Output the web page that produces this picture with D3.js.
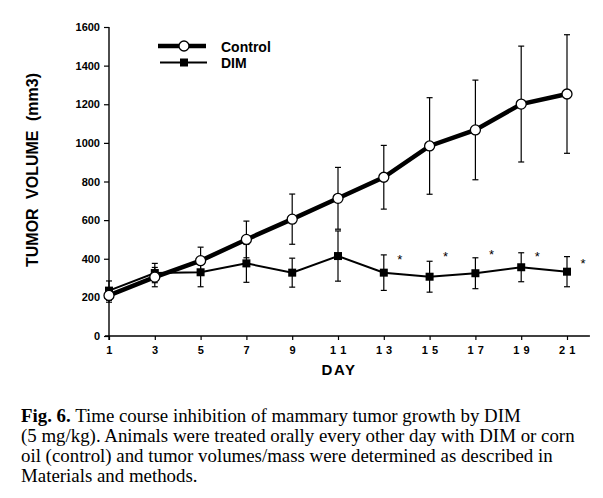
<!DOCTYPE html>
<html><head><meta charset="utf-8">
<script src="https://cdn.jsdelivr.net/npm/d3@7"></script>
<style>body{margin:0;background:#fff}svg{display:block}</style>
</head><body>
<svg id="c" width="603" height="498"></svg>
<script>
const days = [1,3,5,7,9,11,13,15,17,19,21];
const controlMean = [210,305,390,500,605,713,822,984,1067,1201,1253];
const controlErr  = [35,50,70,95,130,160,165,250,258,300,307];
const dimMean = [235,326,330,376,328,414,328,307,325,356,333];
const dimErr  = [50,50,75,98,75,130,92,80,80,75,78];
const starDays = [13,15,17,19,21];
const starValues = [404,419,431,419,385];
const yTicks = [0,200,400,600,800,1000,1200,1400,1600];
const xTickLabels = ["1","3","5","7","9","1 1","1 3","1 5","1 7","1 9","2 1"];
const captionLines = [
  ["Fig. 6.", " Time course inhibition of mammary tumor growth by DIM"],
  ["", "(5 mg/kg). Animals were treated orally every other day with DIM or corn"],
  ["", "oil (control) and tumor volumes/mass were determined as described in"],
  ["", "Materials and methods."]
];

const svg = d3.select("#c");
svg.append("rect").attr("width",603).attr("height",498).attr("fill","#fff");
const x = d3.scaleLinear().domain([1,21]).range([109,567]);
const y = d3.scaleLinear().domain([0,1600]).range([336,27]);
const sans = "'Liberation Sans', Arial, Helvetica, sans-serif";

// axes
const yAxis = svg.append("g").attr("transform",`translate(${x(1)},0)`)
  .call(d3.axisLeft(y).tickValues(yTicks).tickSize(5).tickSizeOuter(0).tickPadding(4).tickFormat(d3.format("d")));
const xAxis = svg.append("g").attr("transform",`translate(0,${y(0)})`)
  .call(d3.axisBottom(x).tickValues(days).tickSize(4).tickSizeOuter(0).tickPadding(6).tickFormat((d,i)=>xTickLabels[i]));
[yAxis,xAxis].forEach(g=>{
  g.select(".domain").remove();
  g.selectAll("line").attr("stroke","#000").attr("stroke-width",1.2);
  g.selectAll("text").attr("fill","#000").style("font-family",sans).style("font-weight","bold")
    .style("font-size","11px").style("white-space","pre");
});
xAxis.selectAll("text").style("letter-spacing","0.5px");
svg.append("line").attr("x1",x(1)).attr("x2",x(1)).attr("y1",y(1600)).attr("y2",y(0)+4)
  .attr("stroke","#000").attr("stroke-width",1.4);
svg.append("line").attr("x1",x(1)-4).attr("x2",x(22)).attr("y1",y(0)).attr("y2",y(0))
  .attr("stroke","#000").attr("stroke-width",1.4);

// titles
svg.append("text").attr("transform",`translate(38,170) rotate(-90)`)
  .attr("text-anchor","middle").style("font-family",sans).style("font-weight","bold")
  .style("font-size","16px").style("word-spacing","5px").text("TUMOR VOLUME (mm3)");
svg.append("text").attr("x",(x(1)+x(21))/2+1).attr("y",375).attr("text-anchor","middle")
  .style("font-family",sans).style("font-weight","bold").style("font-size","15px").style("letter-spacing","1.5px").text("DAY");

// error bars
function errBars(mean, err){
  const g = svg.append("g").attr("stroke","#000").attr("stroke-width",1.2);
  days.forEach((d,i)=>{
    const cx = x(d), t = y(mean[i]+err[i]), b = y(mean[i]-err[i]);
    g.append("line").attr("x1",cx).attr("x2",cx).attr("y1",t).attr("y2",b);
    g.append("line").attr("x1",cx-3).attr("x2",cx+3).attr("y1",t).attr("y2",t);
    g.append("line").attr("x1",cx-3).attr("x2",cx+3).attr("y1",b).attr("y2",b);
  });
}
errBars(dimMean, dimErr);
errBars(controlMean, controlErr);

const line = arr => d3.line().x((d,i)=>x(days[i])).y(d=>y(d))(arr);
svg.append("path").attr("d",line(dimMean)).attr("fill","none").attr("stroke","#000").attr("stroke-width",2);
svg.append("path").attr("d",line(controlMean)).attr("fill","none").attr("stroke","#000").attr("stroke-width",4.5);

svg.append("g").selectAll("rect").data(dimMean).join("rect")
  .attr("x",(d,i)=>x(days[i])-4).attr("y",d=>y(d)-4).attr("width",8).attr("height",8).attr("fill","#000");
svg.append("g").selectAll("circle").data(controlMean).join("circle")
  .attr("cx",(d,i)=>x(days[i])).attr("cy",d=>y(d)).attr("r",5)
  .attr("fill","#fff").attr("stroke","#000").attr("stroke-width",1.3);

// significance stars
svg.append("g").selectAll("text").data(starValues).join("text")
  .attr("x",(d,i)=>x(starDays[i]+0.7)).attr("y",d=>y(d)+6).attr("text-anchor","middle")
  .style("font-family",sans).style("font-size","13px").text("*");

// legend
const lg = svg.append("g");
lg.append("line").attr("x1",158).attr("x2",206).attr("y1",46).attr("y2",46).attr("stroke","#000").attr("stroke-width",4.5);
lg.append("circle").attr("cx",184).attr("cy",46).attr("r",5).attr("fill","#fff").attr("stroke","#000").attr("stroke-width",1.3);
lg.append("text").attr("x",221).attr("y",52).style("font-family",sans).style("font-weight","bold").style("font-size","14px").text("Control");
lg.append("line").attr("x1",160).attr("x2",207).attr("y1",62.5).attr("y2",62.5).attr("stroke","#000").attr("stroke-width",2);
lg.append("rect").attr("x",180).attr("y",58.5).attr("width",8).attr("height",8).attr("fill","#000");
lg.append("text").attr("x",221).attr("y",68).style("font-family",sans).style("font-weight","bold").style("font-size","14px").text("DIM");

// caption (font size fitted so the widest line spans the reference width)
const capTexts = captionLines.map((l,i)=>{
  const t = svg.append("text").attr("x",21).attr("y",422+i*20)
    .attr("font-family","'Liberation Serif','Times New Roman',serif").attr("font-size",16)
    .attr("fill","#000").attr("xml:space","preserve");
  if(l[0]) t.append("tspan").attr("font-weight","bold").text(l[0]);
  t.append("tspan").text(l[1]);
  return t;
});
const w = capTexts[1].node().getComputedTextLength();
const fs = w > 0 ? 16*554/w : 17.5;
capTexts.forEach(t=>t.attr("font-size",fs));
</script>
</body></html>
